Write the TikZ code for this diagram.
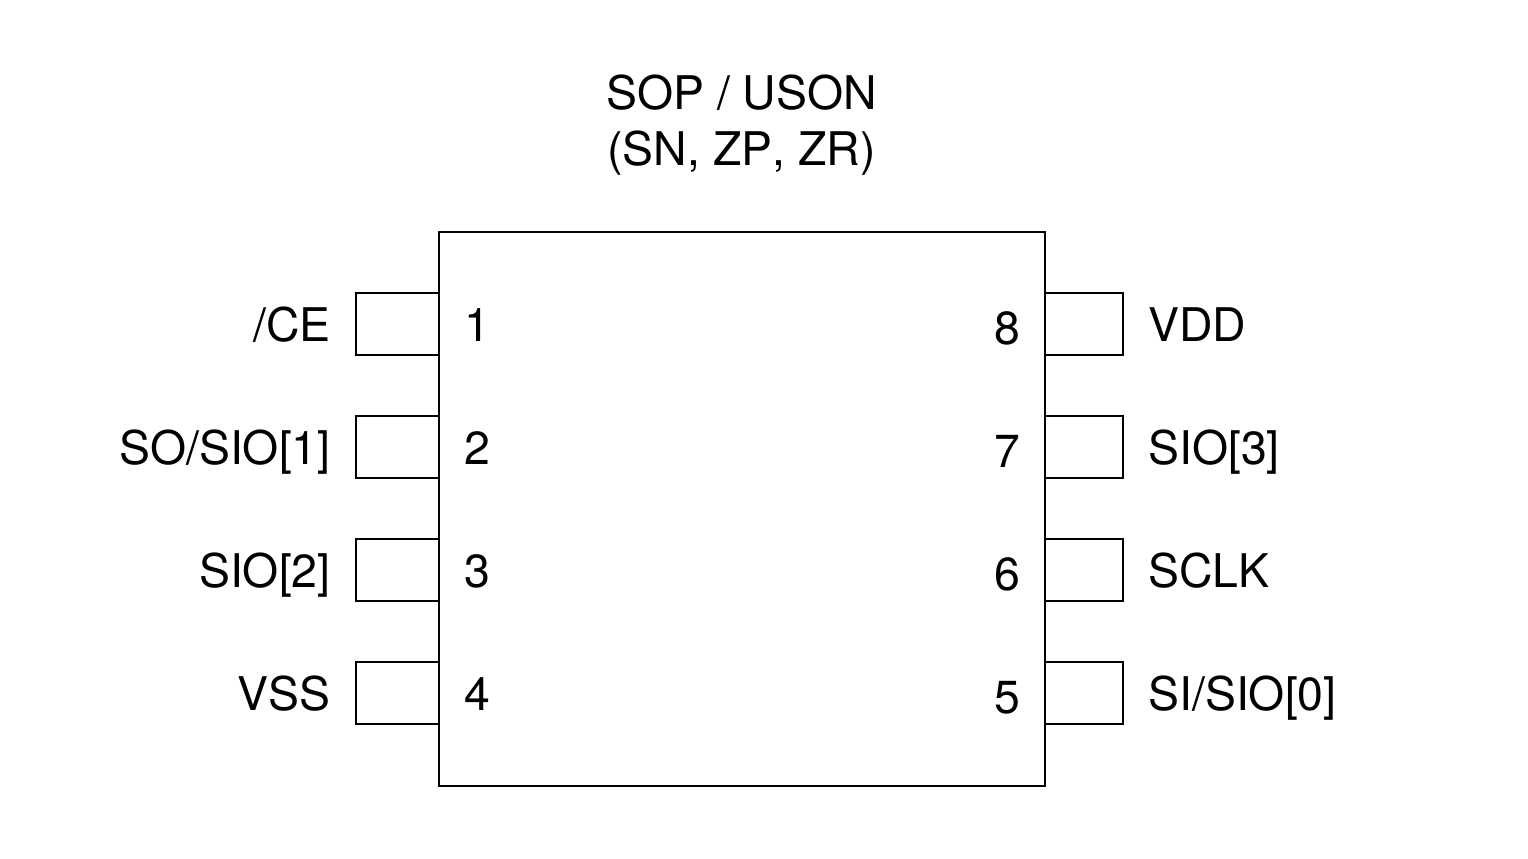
\documentclass[tikz,border=0pt]{standalone}
\usepackage{fontspec}
\setmainfont[Kerning=Off]{TeX Gyre Heros}
\usetikzlibrary{positioning}

\begin{document}
\begin{tikzpicture}[
    every node/.style={font=\fontsize{26.4}{32.2}\selectfont, align=center, inner sep=0pt},
    chip/.style={draw, line width=1.1pt, minimum width=12.12cm, minimum height=11.08cm},
    pinleft/.style={draw, line width=1.1pt, minimum width=1.66cm, minimum height=1.24cm},
    pinright/.style={draw, line width=1.1pt, minimum width=1.56cm, minimum height=1.24cm},
    namel/.style={anchor=base east},
    namer/.style={anchor=base west},
    num/.style={anchor=base}
]
\useasboundingbox (0,0) rectangle (30.56,17.16);

% Pins
\node[pinleft] (pinone) at (7.95,10.68) {};
\node[pinleft] (pintwo) at (7.95,8.22) {};
\node[pinleft] (pinthree) at (7.95,5.755) {};
\node[pinleft] (pinfour) at (7.95,3.295) {};
\node[pinright] (pineight) at (21.68,10.68) {};
\node[pinright] (pinseven) at (21.68,8.22) {};
\node[pinright] (pinsix) at (21.68,5.755) {};
\node[pinright] (pinfive) at (21.68,3.295) {};

% Package
\node[chip] (package) at (14.84,6.98) {};
\node (title) at (14.83,14.655) {SOP / USON\\(SN, ZP, ZR)};

% Numbers
\node[num] (numone) at (9.54,10.34) {1};
\node[num] (numtwo) at (9.54,7.87) {2};
\node[num] (numthree) at (9.54,5.41) {3};
\node[num] (numfour) at (9.54,2.95) {4};
\node[num] (numeight) at (20.14,10.28) {8};
\node[num] (numseven) at (20.14,7.81) {7};
\node[num] (numsix) at (20.14,5.35) {6};
\node[num] (numfive) at (20.14,2.89) {5};

% Names
\node[namel] (ce) at (6.62,10.34) {/CE};
\node[namel] (so) at (6.62,7.87) {SO/SIO[1]};
\node[namel] (siotwo) at (6.62,5.41) {SIO[2]};
\node[namel] (vss) at (6.62,2.95) {VSS};
\node[namer] (vdd) at (22.96,10.34) {VDD};
\node[namer] (siothree) at (22.96,7.87) {SIO[3]};
\node[namer] (sclk) at (22.96,5.41) {SCLK};
\node[namer] (si) at (22.96,2.95) {SI/SIO[0]};

\end{tikzpicture}
\end{document}
